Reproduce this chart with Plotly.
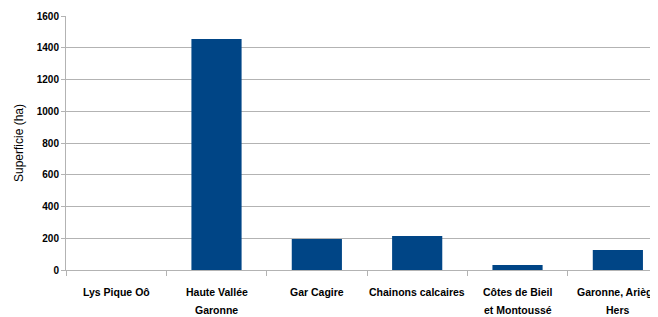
import plotly.graph_objects as go

categories = ["Lys Pique Oô", "Haute Vallée\nGaronne", "Gar Cagire", "Chainons calcaires",
              "Côtes de Bieil\net Montoussé", "Garonne, Ariège\nHers"]
values = [0, 1455, 196, 214, 32, 126]
y_ticks = [0, 200, 400, 600, 800, 1000, 1200, 1400, 1600]

# the page body adds an 8px offset; compensate
OFF = 8
fig = go.Figure(go.Bar(x=categories, y=values, marker=dict(color="#004586", line=dict(width=0)), width=0.5))

fig.update_layout(
    width=658 - OFF, height=317 - OFF,
    margin=dict(l=66 - OFF, r=0, t=16 - OFF, b=47),
    plot_bgcolor="white", paper_bgcolor="white",
    showlegend=False,
    font=dict(family="Liberation Sans, Arial, sans-serif", color="black"),
)

annotations = []
for cat in categories:
    for i, line in enumerate(cat.split("\n")):
        annotations.append(dict(
            x=cat, xref="x", y=0, yref="paper", yshift=-22 - 18 * i,
            text=line, showarrow=False, xanchor="center", yanchor="middle",
            font=dict(size=10.5, weight="bold", color="black"),
        ))
fig.update_layout(annotations=annotations)

fig.update_xaxes(
    type="category", range=[-0.5, 5.4], tickson="boundaries",
    ticks="outside", ticklen=5, tickcolor="#b3b3b3",
    showline=True, linecolor="#b3b3b3", linewidth=1,
    showgrid=False, showticklabels=False, automargin=False,
)
fig.update_yaxes(
    range=[0, 1600], tickvals=y_ticks,
    ticks="outside", ticklen=4, tickcolor="#b3b3b3",
    showline=True, linecolor="#b3b3b3", linewidth=1,
    gridcolor="#b3b3b3", gridwidth=1, zeroline=False, automargin=False,
    tickfont=dict(size=10, weight="bold"),
    title=dict(text="Superficie (ha)", font=dict(size=12), standoff=10),
)
fig.write_html("out.html")
